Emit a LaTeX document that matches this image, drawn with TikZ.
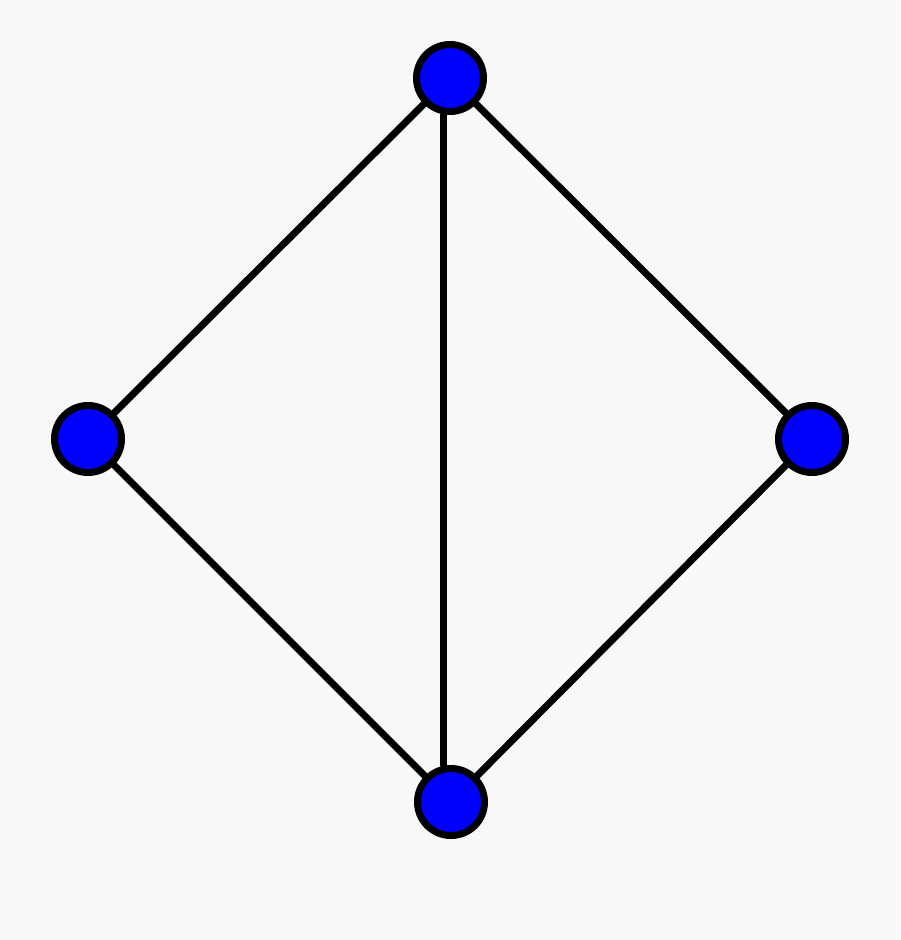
\documentclass[tikz,border=0pt]{standalone}
\usepackage{tikz}
\definecolor{bgcol}{HTML}{F8F8F8}
\tikzset{vert/.style={circle,draw=black,fill=blue,line width=7pt,inner sep=0pt,minimum size=67pt}}
\begin{document}
\begin{tikzpicture}[line cap=round,line join=round,x=1pt,y=-1pt]
\fill[bgcol] (0,0) rectangle (900,940);
\useasboundingbox (0,0) rectangle (900,940);
\node[vert] (top) at (450,78) {};
\node[vert] (left) at (88,439) {};
\node[vert] (right) at (812,439) {};
\node[vert] (bot) at (451,802) {};
\draw [line width=7pt] (top) -- (left);
\draw [line width=7pt] (top) -- (right);
\draw [line width=7pt] (left) -- (bot);
\draw [line width=7pt] (right) -- (bot);
\draw [line width=7pt] ([xshift=-7pt]top.south) -- ([xshift=-8pt]bot.north);
\end{tikzpicture}
\end{document}
